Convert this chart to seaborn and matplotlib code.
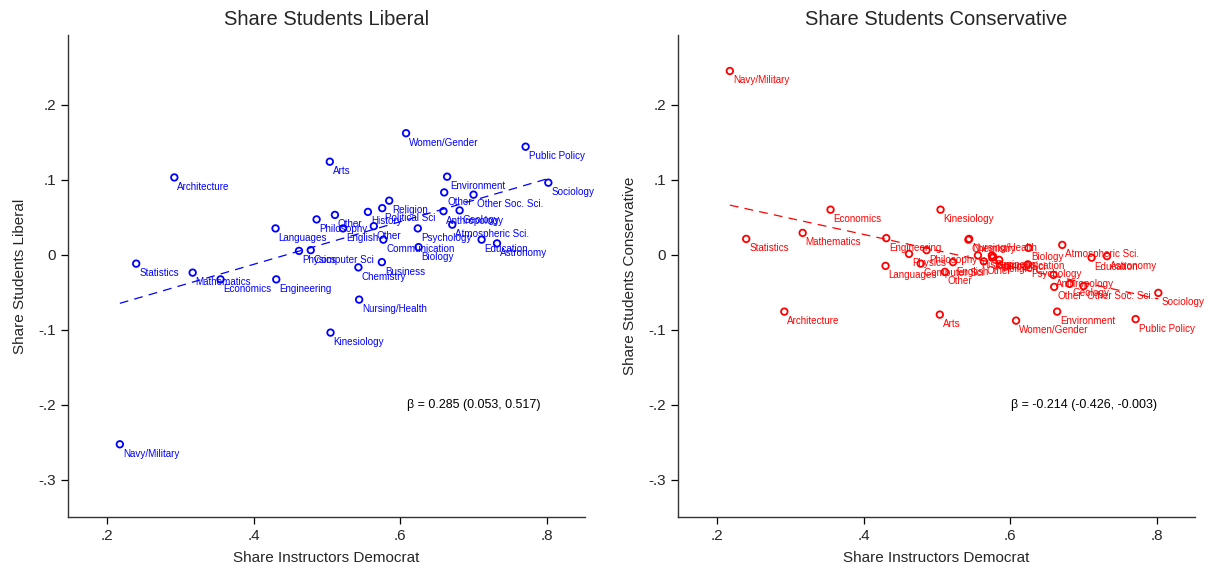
import matplotlib
matplotlib.use("Agg")
import matplotlib.pyplot as plt
import seaborn as sns
import pandas as pd
import numpy as np

fields = ["Women/Gender", "Public Policy", "Arts", "Environment", "Sociology",
          "Other", "Other Soc. Sci.", "Religion", "Political Sci", "History",
          "Anthropology", "Geology", "Other", "Philosophy", "Languages",
          "English", "Other", "Psychology", "Communication", "Biology",
          "Atmospheric Sci.", "Education", "Astronomy", "Computer Sci", "Physics",
          "Business", "Chemistry", "Engineering", "Nursing/Health", "Kinesiology",
          "Architecture", "Statistics", "Mathematics", "Economics", "Navy/Military"]

share_dem = [0.608, 0.771, 0.504, 0.664, 0.802,
             0.660, 0.700, 0.585, 0.5755, 0.556,
             0.659, 0.681, 0.511, 0.486, 0.430,
             0.522, 0.564, 0.624, 0.577, 0.625,
             0.671, 0.711, 0.732, 0.478, 0.462,
             0.575, 0.543, 0.431, 0.544, 0.505,
             0.292, 0.240, 0.317, 0.355, 0.2177]

share_lib = [0.162, 0.144, 0.124, 0.104, 0.096,
             0.083, 0.080, 0.072, 0.062, 0.057,
             0.058, 0.059, 0.053, 0.047, 0.035,
             0.035, 0.038, 0.035, 0.020, 0.010,
             0.040, 0.020, 0.015, 0.006, 0.005,
             -0.010, -0.017, -0.033, -0.060, -0.104,
             0.103, -0.012, -0.024, -0.033, -0.253]

share_cons = [-0.088, -0.086, -0.080, -0.076, -0.051,
              -0.043, -0.042, -0.007, -0.004, -0.001,
              -0.027, -0.039, -0.023, 0.006, -0.015,
              -0.010, -0.009, -0.013, -0.003, 0.009,
              0.013, -0.004, -0.002, -0.012, 0.001,
              -0.001, 0.020, 0.022, 0.021, 0.060,
              -0.076, 0.021, 0.029, 0.060, 0.245]

# reported regression fits
fit_lib = {"intercept": -0.127, "beta": 0.285}
fit_cons = {"intercept": 0.1126, "beta": -0.214}
beta_text_lib = "\u03b2 = 0.285 (0.053, 0.517)"
beta_text_cons = "\u03b2 = -0.214 (-0.426, -0.003)"

titles = ["Share Students Liberal", "Share Students Conservative"]
xticks = [0.2, 0.4, 0.6, 0.8]
xticklabels = [".2", ".4", ".6", ".8"]
yticks = [0.2, 0.1, 0.0, -0.1, -0.2, -0.3]
yticklabels = [".2", ".1", "0", "-.1", "-.2", "-.3"]

sns.set_style("ticks")
plt.rcParams["font.family"] = ["Liberation Sans", "DejaVu Sans"]

df = pd.DataFrame({"field": fields, "x": share_dem, "lib": share_lib, "cons": share_cons})

fig = plt.figure(figsize=(12.09, 5.69), dpi=100)
ax1 = fig.add_axes([68 / 1209, 1 - 517 / 569, 517 / 1209, 482 / 569])
ax2 = fig.add_axes([678 / 1209, 1 - 517 / 569, 517 / 1209, 482 / 569])

panels = [(ax1, "lib", "blue", fit_lib, beta_text_lib, titles[0]),
          (ax2, "cons", "red", fit_cons, beta_text_cons, titles[1])]

xr = np.array([df["x"].min(), df["x"].max()])

for ax, col, color, fit, btxt, title in panels:
    sns.scatterplot(data=df, x="x", y=col, ax=ax, marker="o", s=22,
                    facecolor="none", edgecolor=color, linewidth=1.3, zorder=3)
    fy = fit["intercept"] + fit["beta"] * xr
    sns.lineplot(x=xr, y=fy, ax=ax, color=color, linewidth=0.9,
                 dashes=False, zorder=2)
    ax.lines[-1].set_dashes([7, 5])
    for _, r in df.iterrows():
        ax.annotate(r["field"], (r["x"], r[col]), xytext=(3, -9.5),
                    textcoords="offset pixels", fontsize=7.1, color=color,
                    ha="left", va="center")
    ax.text(0.70, -0.2, btxt, fontsize=9, ha="center", va="center", color="black")
    ax.set_xlim(0.147, 0.852)
    ax.set_ylim(-0.35, 0.293)
    ax.set_xticks(xticks)
    ax.set_xticklabels(xticklabels)
    ax.set_yticks(yticks)
    ax.set_yticklabels(yticklabels)
    ax.tick_params(axis="both", labelsize=11, length=5, width=0.9, direction="out", color="black")
    ax.set_xlabel("Share Instructors Democrat", fontsize=11, labelpad=6)
    ax.set_ylabel(titles[0] if col == "lib" else titles[1], fontsize=11, labelpad=8)
    ax.set_title(title, fontsize=14.5, pad=7)
    for s in ["top", "right"]:
        ax.spines[s].set_visible(False)
    for s in ["left", "bottom"]:
        ax.spines[s].set_linewidth(1.0)
        ax.spines[s].set_color("#333333")

fig.savefig("out.png", dpi=100)
